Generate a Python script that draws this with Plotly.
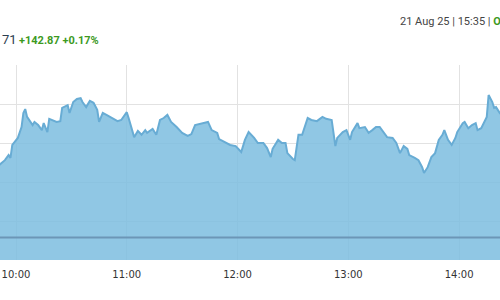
import plotly.graph_objects as go

# Intraday index values
times = ["09:50", "09:51", "09:54", "09:56", "09:57", "09:58", "10:00", "10:01", "10:03", "10:04",
         "10:05", "10:06", "10:09", "10:10", "10:12", "10:14", "10:15", "10:17", "10:18", "10:20",
         "10:22", "10:24", "10:25", "10:28", "10:29", "10:31", "10:33", "10:35", "10:36", "10:38",
         "10:40", "10:42", "10:44", "10:45", "10:47", "10:49", "10:52", "10:55", "10:57", "11:00",
         "11:01", "11:03", "11:04", "11:06", "11:08", "11:10", "11:11", "11:14", "11:16", "11:18",
         "11:20", "11:22", "11:24", "11:27", "11:30", "11:33", "11:35", "11:37", "11:40", "11:41",
         "11:44", "11:46", "11:49", "11:50", "11:53", "11:56", "11:59", "12:00", "12:02", "12:04",
         "12:06", "12:09", "12:11", "12:14", "12:16", "12:18", "12:19", "12:22", "12:24", "12:26",
         "12:27", "12:30", "12:31", "12:33", "12:35", "12:38", "12:40", "12:43", "12:46", "12:48",
         "12:51", "12:53", "12:54", "12:57", "12:59", "13:01", "13:02", "13:05", "13:06", "13:09",
         "13:11", "13:13", "13:15", "13:17", "13:19", "13:21", "13:24", "13:26", "13:28", "13:30",
         "13:32", "13:33", "13:36", "13:38", "13:40", "13:41", "13:43", "13:45", "13:47", "13:49",
         "13:51", "13:52", "13:54", "13:56", "13:58", "13:59", "14:02", "14:03", "14:05", "14:07",
         "14:09", "14:10", "14:12", "14:15", "14:16", "14:18", "14:19", "14:20", "14:22", "14:23"]
values = [82040, 82044, 82056, 82069, 82062, 82095, 82108, 82113, 82141, 82177,
          82187, 82167, 82146, 82154, 82146, 82133, 82151, 82128, 82162, 82159,
          82154, 82156, 82190, 82197, 82177, 82205, 82213, 82215, 82205, 82192,
          82208, 82203, 82185, 82154, 82177, 82172, 82164, 82156, 82159, 82179,
          82164, 82133, 82115, 82131, 82121, 82133, 82126, 82136, 82121, 82159,
          82164, 82172, 82154, 82141, 82126, 82118, 82123, 82146, 82149, 82151,
          82154, 82133, 82126, 82110, 82103, 82095, 82092, 82087, 82077, 82108,
          82128, 82113, 82100, 82100, 82087, 82064, 82085, 82108, 82100, 82100,
          82074, 82059, 82056, 82121, 82121, 82164, 82159, 82156, 82167, 82162,
          82159, 82092, 82113, 82128, 82133, 82108, 82128, 82151, 82138, 82141,
          82126, 82133, 82141, 82141, 82128, 82115, 82113, 82100, 82074, 82092,
          82085, 82069, 82062, 82056, 82038, 82023, 82038, 82064, 82074, 82108,
          82121, 82133, 82108, 82095, 82113, 82128, 82151, 82154, 82138, 82146,
          82151, 82133, 82138, 82167, 82223, 82205, 82190, 82192, 82177, 82172]
prev_close = 81857.84
tick_times = ["10:00", "11:00", "12:00", "13:00", "14:00"]
header_price = "71"
header_change = "+142.87 +0.17%"
header_date = "21 Aug 25 | 15:35 | "
header_status = "Op"

DAY = "2025-08-21 "
x = [DAY + t for t in times]

fig = go.Figure()
fig.add_trace(go.Scatter(
    x=x, y=values, mode="lines",
    line=dict(color="rgb(104,172,212)", width=2),
    fill="tozeroy", fillcolor="rgba(126,190,223,0.86)",
    hoverinfo="skip", showlegend=False,
))

fig.add_shape(type="line", xref="paper", x0=0, x1=1, yref="y", y0=prev_close, y1=prev_close,
              line=dict(color="rgb(108,150,182)", width=2))

fig.update_layout(
    width=500, height=300,
    margin=dict(l=0, r=0, t=65, b=40),
    paper_bgcolor="white", plot_bgcolor="white",
    xaxis=dict(
        type="date",
        range=[DAY + "09:51:20", DAY + "14:22:10"],
        tickvals=[DAY + t for t in tick_times],
        ticktext=tick_times,
        showgrid=True, gridcolor="#e2e2e2", gridwidth=1,
        ticks="outside", ticklen=5, tickcolor="rgba(0,0,0,0)",
        tickfont=dict(family="DejaVu Sans", size=10, color="#333"),
        zeroline=False, showline=False,
    ),
    yaxis=dict(
        range=[81800, 82300],
        dtick=100, tick0=81800,
        showgrid=True, gridcolor="#e2e2e2", gridwidth=1,
        showticklabels=False, zeroline=False, showline=False,
    ),
    annotations=[
        dict(xref="paper", yref="paper", x=0.0, y=(260 - 39) / 195, xanchor="left", yanchor="middle",
             text=header_price, showarrow=False,
             font=dict(family="Roboto", size=13, color="#2c3e50")),
        dict(xref="paper", yref="paper", x=0.034, y=(260 - 40) / 195, xanchor="left", yanchor="middle",
             text="<b>" + header_change + "</b>", showarrow=False,
             font=dict(family="Roboto", size=11, color="#3d9a1f")),
        dict(xref="paper", yref="paper", x=0.796, y=(260 - 22) / 195, xanchor="left", yanchor="middle",
             text=header_date + "<span style='color:#3d9a1f'><b>" + header_status + "</b></span>",
             showarrow=False,
             font=dict(family="Roboto", size=11, color="#444")),
    ],
)

fig.write_html("out.html")
